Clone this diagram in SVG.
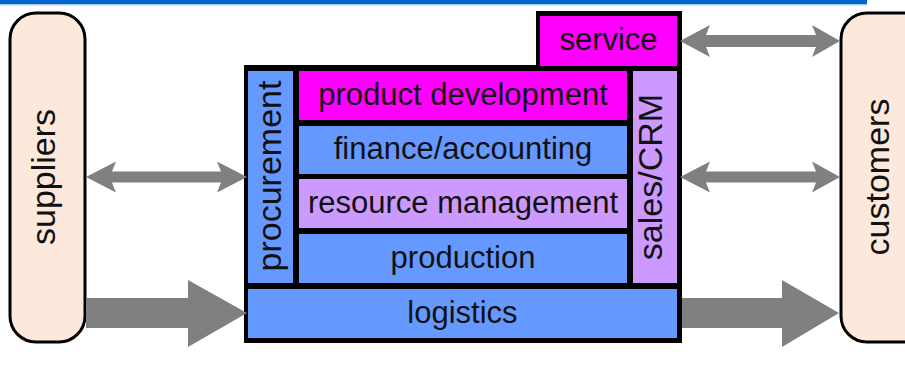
<svg xmlns="http://www.w3.org/2000/svg" width="905" height="369" viewBox="0 0 905 369">
<style>
text{font-family:"Liberation Sans",Arial,sans-serif;fill:#111;text-anchor:middle}
.h{font-size:31px}
.v{font-size:34px}
.party{fill:#fce9dc;stroke:#000;stroke-width:3}
.blue{fill:#6699ff}
.mag{fill:#ff00ff}
.lav{fill:#cc99ff}
.arrow{fill:#808080}
</style>
<rect x="0" y="0" width="867" height="4" fill="#0066cc"/>
<rect x="0" y="4" width="867" height="1.5" fill="#a9cbef"/>
<g id="suppliers">
<rect class="party" x="10" y="13" width="75" height="329" rx="26"/>
<text class="v" transform="translate(55,177) rotate(-90)">suppliers</text>
</g>
<g id="customers">
<rect class="party" x="841" y="13" width="90" height="329" rx="26"/>
<text class="v" transform="translate(889,177) rotate(-90)">customers</text>
</g>
<g id="frame">
<polygon points="244,65 536,65 536,11 682,11 682,343 244,343" fill="#000"/>
</g>
<g id="service">
<rect class="mag" x="540" y="16" width="137" height="50"/>
<text class="h" x="608.5" y="50">service</text>
</g>
<g id="procurement">
<rect class="blue" x="248" y="71" width="45" height="212"/>
<text class="v" transform="translate(281,176) rotate(-90)">procurement</text>
</g>
<g id="product-development">
<rect class="mag" x="299" y="71" width="328" height="49"/>
<text class="h" x="463" y="105">product development</text>
</g>
<g id="finance-accounting">
<rect class="blue" x="299" y="126" width="328" height="48"/>
<text class="h" x="463" y="159">finance/accounting</text>
</g>
<g id="resource-management">
<rect class="lav" x="299" y="179" width="328" height="49"/>
<text class="h" x="463" y="213">resource management</text>
</g>
<g id="production">
<rect class="blue" x="299" y="234" width="328" height="49"/>
<text class="h" x="463" y="268">production</text>
</g>
<g id="sales-crm">
<rect class="lav" x="633" y="71" width="44" height="212"/>
<text class="v" transform="translate(662,177) rotate(-90)">sales/CRM</text>
</g>
<g id="logistics">
<rect class="blue" x="248" y="289" width="429" height="49"/>
<text class="h" x="462.5" y="323">logistics</text>
</g>
<g id="connectors">
<polygon class="arrow" points="86,177 116,161.5 112,171.5 221,171.5 217,161.5 247,177 217,192.5 221,182.5 112,182.5 116,192.5"/>
<polygon class="arrow" points="680,41 710,25 706,35 816,35 812,25 840,41 812,57 816,47 706,47 710,57"/>
<polygon class="arrow" points="680,177 710,161.5 706,171.5 816,171.5 812,161.5 840,177 812,192.5 816,182.5 706,182.5 710,192.5"/>
<polygon class="arrow" points="86,298 188,298 188,280 247,313 188,347 188,328 86,328"/>
<polygon class="arrow" points="682,298 782,298 782,280 839,313 782,347 782,328 682,328"/>
</g>
</svg>
